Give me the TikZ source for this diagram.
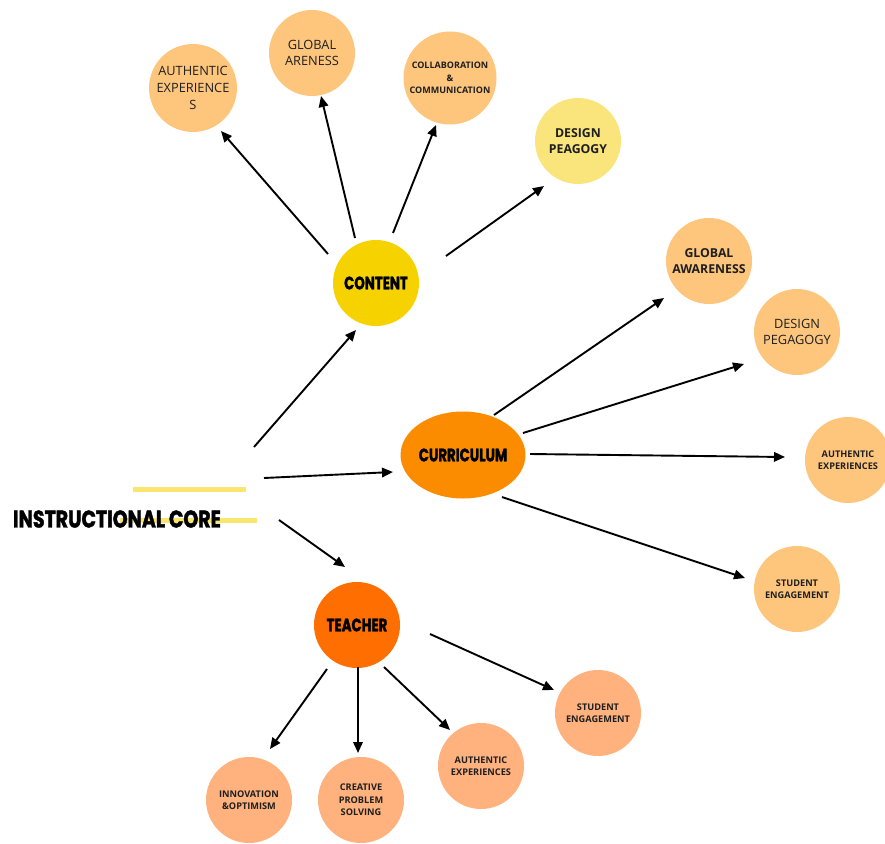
\documentclass[tikz,border=0pt]{standalone}
\usepackage{fontspec}
\setmainfont{Open Sans}
\newfontfamily\headfont{Poppins}[FakeStretch=0.74, FakeBold=1.6]
\newfontfamily\corefont{Poppins}[FakeStretch=0.79, FakeBold=1.8]
\usetikzlibrary{calc,arrows.meta,shapes.geometric}

\definecolor{cContent}{RGB}{246,211,0}
\definecolor{cCurric}{RGB}{251,140,0}
\definecolor{cTeacher}{RGB}{255,110,0}
\definecolor{cPeach}{RGB}{254,198,125}
\definecolor{cPaleYellow}{RGB}{250,229,125}
\definecolor{cSalmon}{RGB}{255,178,125}
\definecolor{cStroke}{RGB}{250,230,110}
\definecolor{cInk}{RGB}{30,30,30}

\begin{document}
\begin{tikzpicture}[x=1pt,y=-1pt,
  bubble/.style={circle, minimum size=86pt, inner sep=0pt, align=center, text=cInk},
  hub/.style={inner sep=0pt, align=center, text=black, font=\headfont\bfseries\fontsize{18}{20}\selectfont},
  regtext/.style={font=\fontsize{12.8}{16.7}\selectfont},
  midtext/.style={font=\bfseries\fontsize{12.3}{16.5}\selectfont},
  smalltext/.style={font=\bfseries\fontsize{9.2}{12.5}\selectfont},
  arr/.style={-{Triangle[length=11pt,width=9.5pt]}, line width=1.9pt, black},
  highlight/.style={line width=5pt, cStroke}
]
\useasboundingbox (0,0) rectangle (885,843);

% highlight strokes behind the title
\draw[highlight] (133,489) -- (246,489);
\draw[highlight] (120,520) -- (257,520);

% central hubs
\node[font=\corefont\bfseries\fontsize{24}{26}\selectfont, inner sep=0pt] (core) at (117,519) {INSTRUCTIONAL CORE};
\node[hub, circle, fill=cContent, minimum size=86pt] (content) at (376,283) {CONTENT};
\node[hub, ellipse, fill=cCurric, minimum width=124pt, minimum height=87pt] (curric) at (463,455) {CURRICULUM};
\node[hub, circle, fill=cTeacher, minimum size=86pt] (teacher) at (357,625) {TEACHER};

% content branch
\node[bubble, fill=cPeach, minimum size=88pt, regtext] (authA) at (193,88) {AUTHENTIC\\EXPERIENCE\\S};
\node[bubble, fill=cPeach, regtext] (globA) at (312,53) {GLOBAL\\ARENESS};
\node[bubble, fill=cPeach, minimum size=93pt, font=\bfseries\fontsize{9}{12.5}\selectfont] (collab) at (450,78) {COLLABORATION\\\&\\COMMUNICATION};
\node[bubble, fill=cPaleYellow, midtext] (designA) at (578,141) {DESIGN\\PEAGOGY};

% curriculum branch
\node[bubble, fill=cPeach, midtext] (globB) at (709,261) {GLOBAL\\AWARENESS};
\node[bubble, fill=cPeach, regtext] (designB) at (797,332) {DESIGN\\PEGAGOGY};
\node[bubble, fill=cPeach, smalltext] (authB) at (848,460) {AUTHENTIC\\EXPERIENCES};
\node[bubble, fill=cPeach, smalltext] (studB) at (797,589) {STUDENT\\ENGAGEMENT};

% teacher branch
\node[bubble, fill=cSalmon, smalltext] (innov) at (249,800) {INNOVATION\\\&OPTIMISM};
\node[bubble, fill=cSalmon, smalltext] (creative) at (361,800) {CREATIVE\\PROBLEM\\SOLVING};
\node[bubble, fill=cSalmon, smalltext] (authC) at (481,766) {AUTHENTIC\\EXPERIENCES};
\node[bubble, fill=cSalmon, smalltext] (studC) at (598,713) {STUDENT\\ENGAGEMENT};

% connectors from the core
\draw[arr] ($(core)+(137,-72)$) -- ($(content)+(-20,47)$);
\draw[arr] ($(core)+(147,-41)$) -- ($(curric)+(-70,17)$);
\draw[arr] ($(core)+(162,1)$) -- ($(teacher)+(-12,-58)$);

% connectors from content
\draw[arr] ($(content)+(-48,-29)$) -- ($(authA)+(28,43)$);
\draw[arr] ($(content)+(-21,-45)$) -- ($(globA)+(9,43)$);
\draw[arr] ($(content)+(17,-50)$) -- ($(collab)+(-14,47)$);
\draw[arr] ($(content)+(70,-27)$) -- ($(designA)+(-34,45)$);

% connectors from curriculum
\draw[arr] ($(curric)+(31,-40)$) -- ($(globB)+(-45,37)$);
\draw[arr] ($(curric)+(60,-22)$) -- ($(designB)+(-53,32)$);
\draw[arr] ($(curric)+(67,-1)$) -- ($(authB)+(-63,-3)$);
\draw[arr] ($(curric)+(39,42)$) -- ($(studB)+(-52,-11)$);

% connectors from teacher
\draw[arr] ($(teacher)+(-30,44)$) -- ($(innov)+(21,-51)$);
\draw[arr] ($(teacher)+(1,42)$) -- ($(creative)+(-3,-47)$);
\draw[arr] ($(teacher)+(27,42)$) -- ($(authC)+(-31,-36)$);
\draw[arr] ($(teacher)+(73,9)$) -- ($(studC)+(-44,-23)$);
\end{tikzpicture}
\end{document}
